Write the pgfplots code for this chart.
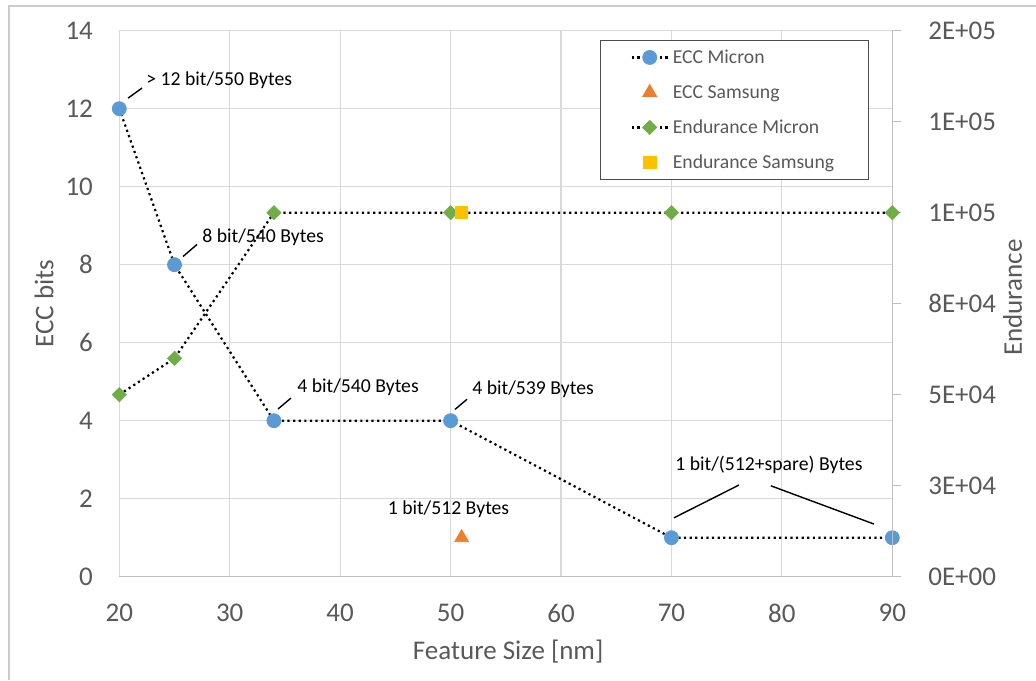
\documentclass[border=0pt]{standalone}
\usepackage{fontspec}
\setmainfont{Carlito}
\usepackage{pgfplots}
\pgfplotsset{compat=1.18}
\definecolor{eccblue}{HTML}{5B9BD5}
\definecolor{eccorange}{HTML}{ED7D31}
\definecolor{endgreen}{HTML}{70AD47}
\definecolor{endgold}{HTML}{FFC000}
\definecolor{txtgray}{HTML}{595959}
\definecolor{gridgray}{HTML}{D9D9D9}
\definecolor{axgray}{HTML}{BFBFBF}
\newcommand\tickfont{\fontsize{13.5}{16}\selectfont}
\newcommand\annfont{\fontsize{9.85}{12}\selectfont}
\newcommand\ls{\rule[-2pt]{0pt}{9.5pt}}
\tikzset{dotline/.style={black, line width=1.1pt, dash pattern=on 1.1pt off 1.7pt}}

\begin{document}
\begin{tikzpicture}
\useasboundingbox (0,0) rectangle (518pt,340pt);
\begin{axis}[
  at={(59.65pt,51.65pt)}, anchor=south west,
  scale only axis, width=386.5pt, height=273pt,
  xmin=20, xmax=90, ymin=0, ymax=14,
  xtick={20,30,...,90}, ytick={0,2,...,14},
  /pgf/number format/assume math mode=true,
  grid=major, major grid style={gridgray, line width=0.6pt},
  axis x line*=bottom, axis y line*=left,
  x axis line style={axgray, line width=0.6pt},
  y axis line style={draw=none},
  tick style={draw=none},
  xticklabel style={font=\tickfont, text=txtgray, anchor=north, inner sep=0pt, yshift=-13.6pt},
  yticklabel style={font=\tickfont, text=txtgray, anchor=east, inner sep=0pt, xshift=-13pt},
  xlabel={Feature Size [nm]},
  xlabel style={at={(axis description cs:0.503,-0.138)}, anchor=center, font=\tickfont, text=txtgray},
  ylabel={ECC bits},
  ylabel style={at={(axis description cs:-0.0974,0.5)}, anchor=center, font=\tickfont, text=txtgray},
  clip=false,
]
\addplot[dotline, mark=*, mark size=3.5pt, mark options={solid, fill=eccblue, draw=eccblue, line width=0.4pt}]
  coordinates {(20,12) (25,8) (34,4) (50,4) (70,1) (90,1)};
\addplot[only marks, mark=triangle*, mark size=4pt, mark options={fill=eccorange, draw=eccorange, line width=0.4pt}]
  coordinates {(51,1)};

\draw[black, line width=0.7pt] (axis cs:20.79,12.27) -- (axis cs:22.06,12.53);
\node[anchor=west, inner sep=0pt, font=\annfont] at (axis cs:22.42,12.74) {> 12 bit/550 Bytes};
\draw[black, line width=0.7pt] (axis cs:25.77,8.21) -- (axis cs:27.04,8.52);
\node[anchor=west, inner sep=0pt, font=\annfont] at (axis cs:27.49,8.71) {8 bit/540 Bytes};
\draw[black, line width=0.7pt] (axis cs:34.37,4.30) -- (axis cs:35.55,4.58);
\node[anchor=west, inner sep=0pt, font=\annfont] at (axis cs:36.09,4.86) {4 bit/540 Bytes};
\draw[black, line width=0.7pt] (axis cs:50.40,4.29) -- (axis cs:51.49,4.55);
\node[anchor=west, inner sep=0pt, font=\annfont] at (axis cs:51.94,4.805) {4 bit/539 Bytes};
\node[anchor=center, inner sep=0pt, font=\annfont] at (axis cs:49.81,1.73) {1 bit/512 Bytes};
\draw[black, line width=0.7pt] (axis cs:70.23,1.51) -- (axis cs:76.11,2.35);
\draw[black, line width=0.7pt] (axis cs:79.01,2.33) -- (axis cs:88.34,1.35);
\node[anchor=center, inner sep=0pt, font=\annfont] at (axis cs:78.83,2.86) {1 bit/(512+spare) Bytes};
\end{axis}

\begin{axis}[
  at={(59.65pt,51.65pt)}, anchor=south west,
  scale only axis, width=386.5pt, height=273pt,
  xmin=20, xmax=90, ymin=0, ymax=150000,
  axis x line=none, axis y line*=right,
  y axis line style={axgray, line width=0.6pt},
  ytick={0,25000,...,150000},
  yticklabels={0E+00,3E+04,5E+04,8E+04,1E+05,1E+05,2E+05},
  scaled y ticks=false,
  tick align=outside, major tick length=4.5pt,
  ytick style={axgray, line width=0.6pt},
  yticklabel style={font=\tickfont, text=txtgray, anchor=west, inner sep=0pt, xshift=13.3pt},
  ylabel={Endurance},
  ylabel style={at={(axis description cs:1.1555,0.511)}, anchor=center, font=\tickfont, text=txtgray},
  clip=false,
  legend image code/.code={\draw[mark repeat=2,mark phase=2,#1] plot coordinates {(0pt,0pt) (9pt,0pt) (18pt,0pt)};},
  legend cell align=left,
  legend style={at={(rel axis cs:0.622,0.983)}, anchor=north west, draw=black!70, line width=0.5pt, fill=white,
    font=\annfont, text=txtgray, inner xsep=15pt, inner ysep=2pt, row sep=4.5pt,
    /tikz/column 2/.style={column sep=2.5pt}},
]
\addlegendimage{dotline, mark=*, mark size=3.5pt, mark options={solid, fill=eccblue, draw=eccblue, line width=0.4pt}}
\addlegendentry{\ls ECC Micron}
\addlegendimage{only marks, mark=triangle*, mark size=4pt, mark options={fill=eccorange, draw=eccorange, line width=0.4pt}}
\addlegendentry{\ls ECC Samsung}
\addplot[dotline, mark=square*, mark size=2.47pt, mark options={solid, fill=endgreen, draw=endgreen, rotate=45, line width=0.4pt}]
  coordinates {(20,50000) (25,60000) (34,100000) (50,100000) (70,100000) (90,100000)};
\addlegendentry{\ls Endurance Micron}
\addplot[only marks, mark=square*, mark size=3.1pt, mark options={fill=endgold, draw=endgold, line width=0.4pt}]
  coordinates {(51,100000)};
\addlegendentry{\ls Endurance Samsung}
\end{axis}
\draw[black!20, line width=0.6pt] (4.5pt,0pt) -- (4.5pt,337pt) -- (518pt,337pt);
\end{tikzpicture}
\end{document}
